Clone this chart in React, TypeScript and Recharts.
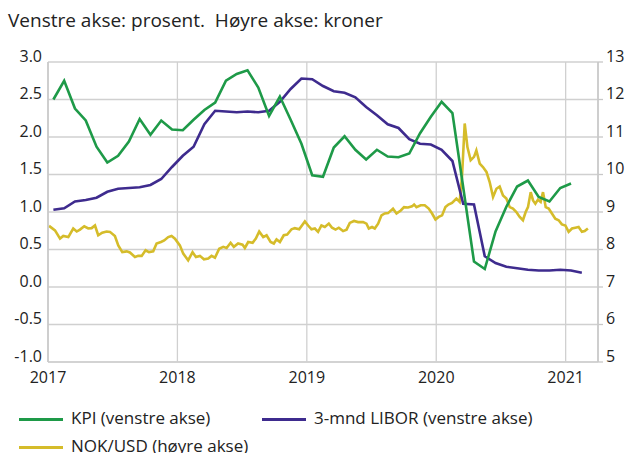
import React from "react";
import { LineChart, Line, XAxis, YAxis, CartesianGrid } from "recharts";

// Månedstall fra januar 2017
const kpiValues = [
  2.5, 2.75, 2.38, 2.22, 1.87, 1.66, 1.75, 1.94, 2.24, 2.03, 2.22, 2.1,
  2.09, 2.23, 2.36, 2.46, 2.75, 2.84, 2.89, 2.66, 2.28, 2.54, 2.23, 1.91,
  1.49, 1.47, 1.86, 2.01, 1.83, 1.7, 1.83, 1.74, 1.73, 1.78, 2.05, 2.27,
  2.47, 2.32, 1.33, 0.34, 0.24, 0.74, 1.07, 1.34, 1.42, 1.2, 1.14, 1.32,
  1.38,
];

const liborValues = [
  1.03, 1.05, 1.14, 1.16, 1.19, 1.27, 1.31, 1.32, 1.33, 1.36, 1.44, 1.6,
  1.75, 1.87, 2.17, 2.35, 2.34, 2.33, 2.34, 2.33, 2.35, 2.47, 2.64, 2.78,
  2.77, 2.68, 2.61, 2.59, 2.53, 2.4, 2.29, 2.17, 2.12, 1.97, 1.91, 1.9,
  1.83, 1.68, 1.11, 1.1, 0.41, 0.32, 0.27, 0.25, 0.23, 0.22, 0.22, 0.23,
  0.22, 0.19,
];

// NOK/USD, tidspunkt i desimalår
const nokTime = [
  2017.008, 2017.054, 2017.093, 2017.118, 2017.157, 2017.195, 2017.222, 2017.247, 2017.28, 2017.311,
  2017.337, 2017.363, 2017.388, 2017.419, 2017.453, 2017.479, 2017.517, 2017.543, 2017.574, 2017.608,
  2017.633, 2017.672, 2017.697, 2017.724, 2017.754, 2017.78, 2017.813, 2017.839, 2017.873, 2017.898,
  2017.929, 2017.955, 2017.981, 2018.019, 2018.045, 2018.083, 2018.117, 2018.143, 2018.174, 2018.205,
  2018.238, 2018.264, 2018.29, 2018.323, 2018.354, 2018.38, 2018.411, 2018.436, 2018.469, 2018.503,
  2018.521, 2018.547, 2018.581, 2018.606, 2018.632, 2018.663, 2018.689, 2018.72, 2018.745, 2018.766,
  2018.792, 2018.822, 2018.848, 2018.882, 2018.907, 2018.941, 2018.985, 2019.01, 2019.036, 2019.062,
  2019.087, 2019.113, 2019.139, 2019.17, 2019.195, 2019.222, 2019.247, 2019.28, 2019.307, 2019.332,
  2019.365, 2019.396, 2019.435, 2019.461, 2019.479, 2019.504, 2019.525, 2019.551, 2019.577, 2019.602,
  2019.628, 2019.666, 2019.693, 2019.726, 2019.751, 2019.782, 2019.813, 2019.829, 2019.847, 2019.88,
  2019.911, 2019.942, 2019.968, 2019.994, 2020.019, 2020.045, 2020.071, 2020.094, 2020.122, 2020.156,
  2020.181, 2020.199, 2020.22, 2020.241, 2020.266, 2020.292, 2020.31, 2020.336, 2020.361, 2020.388,
  2020.413, 2020.439, 2020.465, 2020.49, 2020.516, 2020.542, 2020.568, 2020.593, 2020.619, 2020.645,
  2020.67, 2020.691, 2020.709, 2020.73, 2020.748, 2020.766, 2020.786, 2020.807, 2020.825, 2020.846,
  2020.869, 2020.894, 2020.92, 2020.946, 2020.971, 2020.998, 2021.023, 2021.049, 2021.075, 2021.1,
  2021.126, 2021.147, 2021.172,
];

const nokValue = [
  8.63, 8.51, 8.29, 8.36, 8.33, 8.56, 8.48, 8.53, 8.62, 8.56,
  8.57, 8.64, 8.38, 8.45, 8.48, 8.47, 8.36, 8.11, 7.93, 7.95,
  7.92, 7.8, 7.83, 7.83, 7.98, 7.93, 7.95, 8.16, 8.2, 8.24,
  8.33, 8.36, 8.29, 8.11, 7.89, 7.71, 7.93, 7.8, 7.83, 7.74,
  7.76, 7.83, 7.78, 8.02, 8.07, 8.04, 8.18, 8.07, 8.16, 8.13,
  8.04, 8.2, 8.18, 8.29, 8.48, 8.33, 8.38, 8.2, 8.16, 8.27,
  8.2, 8.38, 8.4, 8.54, 8.57, 8.54, 8.75, 8.64, 8.54, 8.56,
  8.47, 8.64, 8.6, 8.69, 8.58, 8.53, 8.58, 8.49, 8.53, 8.71,
  8.76, 8.73, 8.73, 8.69, 8.56, 8.6, 8.56, 8.69, 8.91, 8.96,
  8.97, 9.09, 8.96, 9.04, 9.13, 9.12, 9.15, 9.2, 9.13, 9.18,
  9.18, 9.09, 8.96, 8.8, 8.87, 8.91, 9.13, 9.2, 9.24, 9.36,
  9.27, 9.93, 11.36, 10.73, 10.38, 10.47, 10.64, 10.29, 10.2, 10.07,
  9.8, 9.4, 9.62, 9.68, 9.44, 9.36, 9.13, 9.09, 9.0, 8.87,
  8.78, 9.0, 9.13, 9.53, 9.31, 9.22, 9.33, 9.27, 9.53, 9.13,
  9.09, 8.96, 8.82, 8.78, 8.67, 8.64, 8.47, 8.56, 8.58, 8.6,
  8.47, 8.49, 8.56,
];

const yearTicks = [2017, 2018, 2019, 2020, 2021];
const leftTicks = [-1, -0.5, 0, 0.5, 1, 1.5, 2, 2.5, 3];
const rightTicks = [5, 6, 7, 8, 9, 10, 11, 12, 13];

const colors = { kpi: "#1e9a48", libor: "#3e2b8e", nok: "#d5bc2a" };

const monthly = (vals: number[]) =>
  vals.map((v, i) => ({ t: 2017 + (i + 0.5) / 12, v }));

const kpiData = monthly(kpiValues);
const liborData = monthly(liborValues);
const nokData = nokTime.map((t, i) => ({ t, v: nokValue[i] }));

const tickFont = { fill: "#222", fontSize: 16, fontFamily: "Open Sans" };

// y-etikettene står med grunnlinjen på gridlinjen
const LeftTick = ({ x, y, payload }: any) => (
  <text x={x} y={y} dy={-0.5} textAnchor="end" {...tickFont}>
    {Number(payload.value).toFixed(1)}
  </text>
);

const RightTick = ({ x, y, payload }: any) => (
  <text x={x} y={y} dy={-0.5} textAnchor="start" {...tickFont}>
    {payload.value}
  </text>
);

const legendItems = [
  { label: "KPI (venstre akse)", color: colors.kpi, x: 19, y: 419 },
  { label: "3-mnd LIBOR (venstre akse)", color: colors.libor, x: 262, y: 419 },
  { label: "NOK/USD (høyre akse)", color: colors.nok, x: 19, y: 447 },
];

export default function App() {
  return (
    <div
      style={{
        position: "absolute",
        left: 0,
        top: 0,
        width: 628,
        height: 453,
        background: "#fff",
        fontFamily: "Open Sans",
        overflow: "hidden",
      }}
    >
      <div
        style={{
          position: "absolute",
          left: 8,
          top: 11,
          fontSize: 19,
          lineHeight: "19px",
          color: "#222",
          whiteSpace: "pre",
        }}
      >
        {"Venstre akse: prosent.  Høyre akse: kroner"}
      </div>
      <div style={{ position: "absolute", left: 0, top: 0 }}>
        <LineChart
          width={628}
          height={390}
          margin={{ top: 62, right: 0, left: 0, bottom: 0 }}
        >
          <CartesianGrid stroke="#d0d0d0" strokeWidth={1.3} yAxisId="left" />
          <XAxis
            dataKey="t"
            type="number"
            domain={[2017, 2021.25]}
            ticks={yearTicks}
            allowDuplicatedCategory={false}
            height={28}
            tickSize={5}
            tickMargin={5}
            tickLine={false}
            axisLine={{ stroke: "#d0d0d0", strokeWidth: 1.3 }}
            tick={tickFont}
          />
          <YAxis
            yAxisId="left"
            domain={[-1, 3]}
            ticks={leftTicks}
            width={48}
            tickSize={4}
            tickMargin={2}
            tickLine={false}
            axisLine={{ stroke: "#c8c8c8", strokeWidth: 1.5 }}
            tick={<LeftTick />}
          />
          <YAxis
            yAxisId="right"
            orientation="right"
            domain={[5, 13]}
            ticks={rightTicks}
            width={30}
            tickSize={5}
            tickMargin={3}
            tickLine={{ stroke: "#c8c8c8", strokeWidth: 1.3 }}
            axisLine={{ stroke: "#c8c8c8", strokeWidth: 1.5 }}
            tick={<RightTick />}
          />
          <Line
            yAxisId="right"
            data={nokData}
            dataKey="v"
            stroke={colors.nok}
            strokeWidth={2.6}
            dot={false}
            isAnimationActive={false}
          />
          <Line
            yAxisId="left"
            data={liborData}
            dataKey="v"
            stroke={colors.libor}
            strokeWidth={2.6}
            dot={false}
            isAnimationActive={false}
          />
          <Line
            yAxisId="left"
            data={kpiData}
            dataKey="v"
            stroke={colors.kpi}
            strokeWidth={2.6}
            dot={false}
            isAnimationActive={false}
          />
        </LineChart>
      </div>
      {legendItems.map((item) => (
        <div key={item.label}>
          <div
            style={{
              position: "absolute",
              left: item.x,
              top: item.y - 1.5,
              width: 44,
              height: 3,
              background: item.color,
            }}
          />
          <div
            style={{
              position: "absolute",
              left: item.x + 52,
              top: item.y - 12,
              fontSize: 17,
              lineHeight: "22px",
              color: "#222",
              whiteSpace: "nowrap",
            }}
          >
            {item.label}
          </div>
        </div>
      ))}
    </div>
  );
}
